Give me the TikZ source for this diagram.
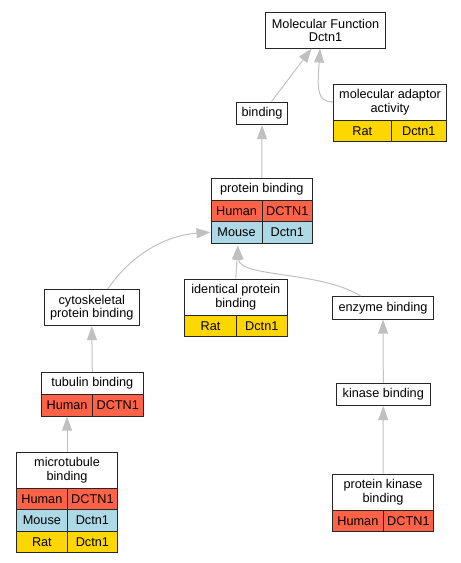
\documentclass[tikz,border=0pt]{standalone}
\usepackage{fontspec}
\setmainfont{Liberation Sans}
\usetikzlibrary{arrows.meta,calc}
\definecolor{human}{HTML}{FF6347}
\definecolor{mouse}{HTML}{ADD8E6}
\definecolor{rat}{HTML}{FFD700}
\definecolor{edgegray}{HTML}{C0C0C0}
\definecolor{boxline}{HTML}{262626}
\tikzset{
  box/.style={draw=boxline, line width=1.1pt, fill=white, inner sep=0pt, align=center,
    anchor=north west, font=\fontsize{12.7}{13.5}\selectfont},
  cell/.style={box, minimum height=21.5pt},
  edge/.style={draw=edgegray, line width=1pt, -{Triangle[length=14pt,width=10pt]}},
}
% \termbox{name}{x}{y}{w}{h}{text}
\newcommand{\termbox}[6]{\node[box, minimum width=#4pt, minimum height=#5pt] (#1) at (#2,#3) {#6};}
% \speciesrow{name}{x}{y}{div}{right}{colour}{species}{gene}
\newcommand{\speciesrow}[8]{%
  \pgfmathsetmacro{\wa}{#4-#2}\pgfmathsetmacro{\wb}{#5-#4}%
  \node[cell, fill=#6, minimum width=\wa pt] (#1a) at (#2,#3) {#7};
  \node[cell, fill=#6, minimum width=\wb pt] (#1b) at (#4,#3) {#8};}
\begin{document}
\begin{tikzpicture}[x=1pt,y=-1pt]
\useasboundingbox (0,0) rectangle (461,563);
% terms
\termbox{mf}{265}{12}{120}{35.5}{Molecular Function\\Dctn1}
\termbox{binding}{236}{101.5}{51}{22.5}{binding}
\termbox{adaptor}{333}{84}{113}{35.5}{molecular adaptor\\activity}
\speciesrow{adaptorR}{333}{119.5}{390.5}{446}{rat}{Rat}{Dctn1}
\termbox{pb}{210.5}{177.5}{101.5}{22}{protein binding}
\speciesrow{pbH}{210.5}{199.5}{261.5}{312}{human}{Human}{DCTN1}
\speciesrow{pbM}{210.5}{221}{261.5}{312}{mouse}{Mouse}{Dctn1}
\termbox{ipb}{184}{278.5}{102.5}{36}{identical protein\\binding}
\speciesrow{ipbR}{184}{314.5}{236}{286.5}{rat}{Rat}{Dctn1}
\termbox{cyto}{44}{289}{94.5}{36}{cytoskeletal\\protein binding}
\termbox{enz}{332}{296}{101}{22.5}{enzyme binding}
\termbox{tub}{41}{372}{101.5}{22}{tubulin binding}
\speciesrow{tubH}{41}{394}{92}{142.5}{human}{Human}{DCTN1}
\termbox{kin}{336}{382.5}{93.5}{22.5}{kinase binding}
\termbox{mt}{16}{452}{101}{35.5}{microtubule\\binding}
\speciesrow{mtH}{16}{487.5}{66.7}{117}{human}{Human}{DCTN1}
\speciesrow{mtM}{16}{509}{66.7}{117}{mouse}{Mouse}{Dctn1}
\speciesrow{mtR}{16}{530.5}{66.7}{117}{rat}{Rat}{Dctn1}
\termbox{pkb}{332}{473.5}{101}{36}{protein kinase\\binding}
\speciesrow{pkbH}{332}{509.5}{382.7}{433}{human}{Human}{DCTN1}
% edges
\draw[edge] ($(binding.north)+(9.5,0)$) -- ($(mf.south)+(-14,0)$);
\draw[edge] ($(adaptor.west)+(0,-0.5)$) .. controls ($(adaptor.west)+(-17,0)$) and ($(mf.south)+(-8,38)$) .. ($(mf.south)+(-5.5,0)$);
\draw[edge] (pb.north) -- (binding.south);
\draw[edge] ($(cyto.north)+(16,0)$) .. controls ($(cyto.north)+(39,-34)$) and ($(pbMa.west)+(-45,3)$) .. (pbMa.west);
\draw[edge] (ipb.north) -- ($(pbMa.south east)+(-24.8,2)$);
\draw[edge] ($(enz.north)+(-22.5,0)$) .. controls ($(enz.north)+(-62,-25)$) and ($(pbMa.south east)+(-23,34)$) .. ($(pbMa.south east)+(-24.8,2)$);
\draw[edge] (tub.north) -- (cyto.south);
\draw[edge] (mt.north) -- (tubHa.south);
\draw[edge] (kin.north) -- (enz.south);
\draw[edge] (pkb.north) -- (kin.south);
\end{tikzpicture}
\end{document}
